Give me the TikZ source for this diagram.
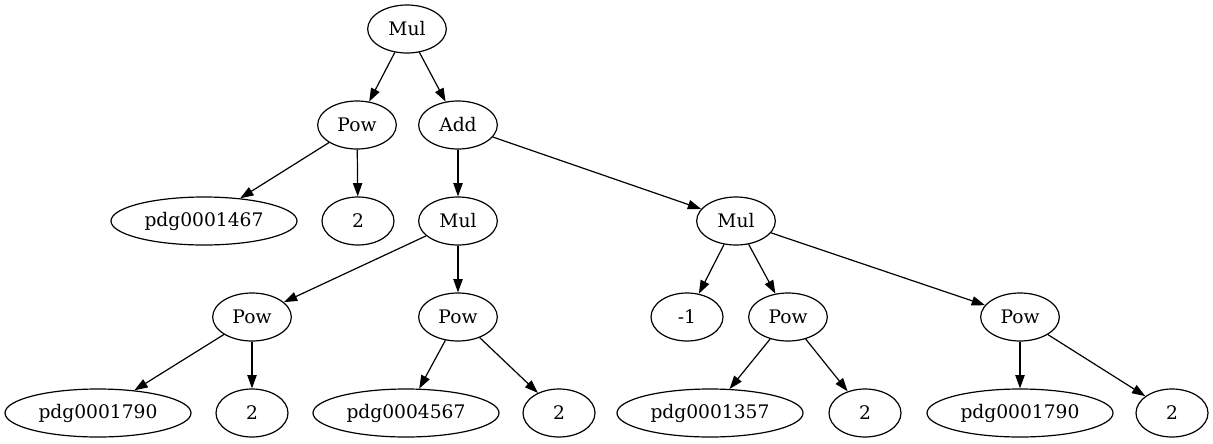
\documentclass[tikz,border=0pt]{standalone}
\usepackage{fontspec}
\setmainfont{DejaVu Serif}
\usetikzlibrary{shapes.geometric,arrows.meta}
\begin{document}
\begin{tikzpicture}[x=0.75pt,y=-0.75pt,
	every node/.style={draw,ellipse,line width=0.9pt,inner sep=0pt,minimum height=36pt,font=\fontsize{14}{16}\selectfont},
	op/.style={minimum width=59pt},
	leaf/.style={minimum width=54pt},
	var/.style={minimum width=139.5pt},
	edge/.style={line width=0.9pt,-{Triangle[length=10pt,width=7pt]}}]
	\useasboundingbox (0,0) rectangle (1213,443);

	% expression tree, one row per level
	\node[op] (root) at (407,29) {Mul};
	\node[op] (powA) at (357,125) {Pow};
	\node[op] (add) at (458,125) {Add};
	\node[var] (pdgA) at (204,221) {pdg0001467};
	\node[leaf] (twoA) at (358,221) {2};
	\node[op] (mulL) at (458,221) {Mul};
	\node[op] (mulR) at (736,221) {Mul};
	\node[op] (powB) at (252,317) {Pow};
	\node[op] (powC) at (458,317) {Pow};
	\node[leaf] (neg) at (687,317) {-1};
	\node[op] (powD) at (788,317) {Pow};
	\node[op] (powE) at (1020,317) {Pow};
	\node[var] (pdgB) at (98,413) {pdg0001790};
	\node[leaf] (twoB) at (252,413) {2};
	\node[var] (pdgC) at (406,413) {pdg0004567};
	\node[leaf] (twoC) at (559,413) {2};
	\node[var] (pdgD) at (710,413) {pdg0001357};
	\node[leaf] (twoD) at (865,413) {2};
	\node[var] (pdgE) at (1020,413) {pdg0001790};
	\node[leaf] (twoE) at (1172,413) {2};

	\draw[edge] (root) -- (powA);
	\draw[edge] (root) -- (add);
	\draw[edge] (powA) -- (pdgA);
	\draw[edge] (powA) -- (twoA);
	\draw[edge] (add) -- (mulL);
	\draw[edge] (add) -- (mulR);
	\draw[edge] (mulL) -- (powB);
	\draw[edge] (mulL) -- (powC);
	\draw[edge] (mulR) -- (neg);
	\draw[edge] (mulR) -- (powD);
	\draw[edge] (mulR) -- (powE);
	\draw[edge] (powB) -- (pdgB);
	\draw[edge] (powB) -- (twoB);
	\draw[edge] (powC) -- (pdgC);
	\draw[edge] (powC) -- (twoC);
	\draw[edge] (powD) -- (pdgD);
	\draw[edge] (powD) -- (twoD);
	\draw[edge] (powE) -- (pdgE);
	\draw[edge] (powE) -- (twoE);
\end{tikzpicture}
\end{document}
